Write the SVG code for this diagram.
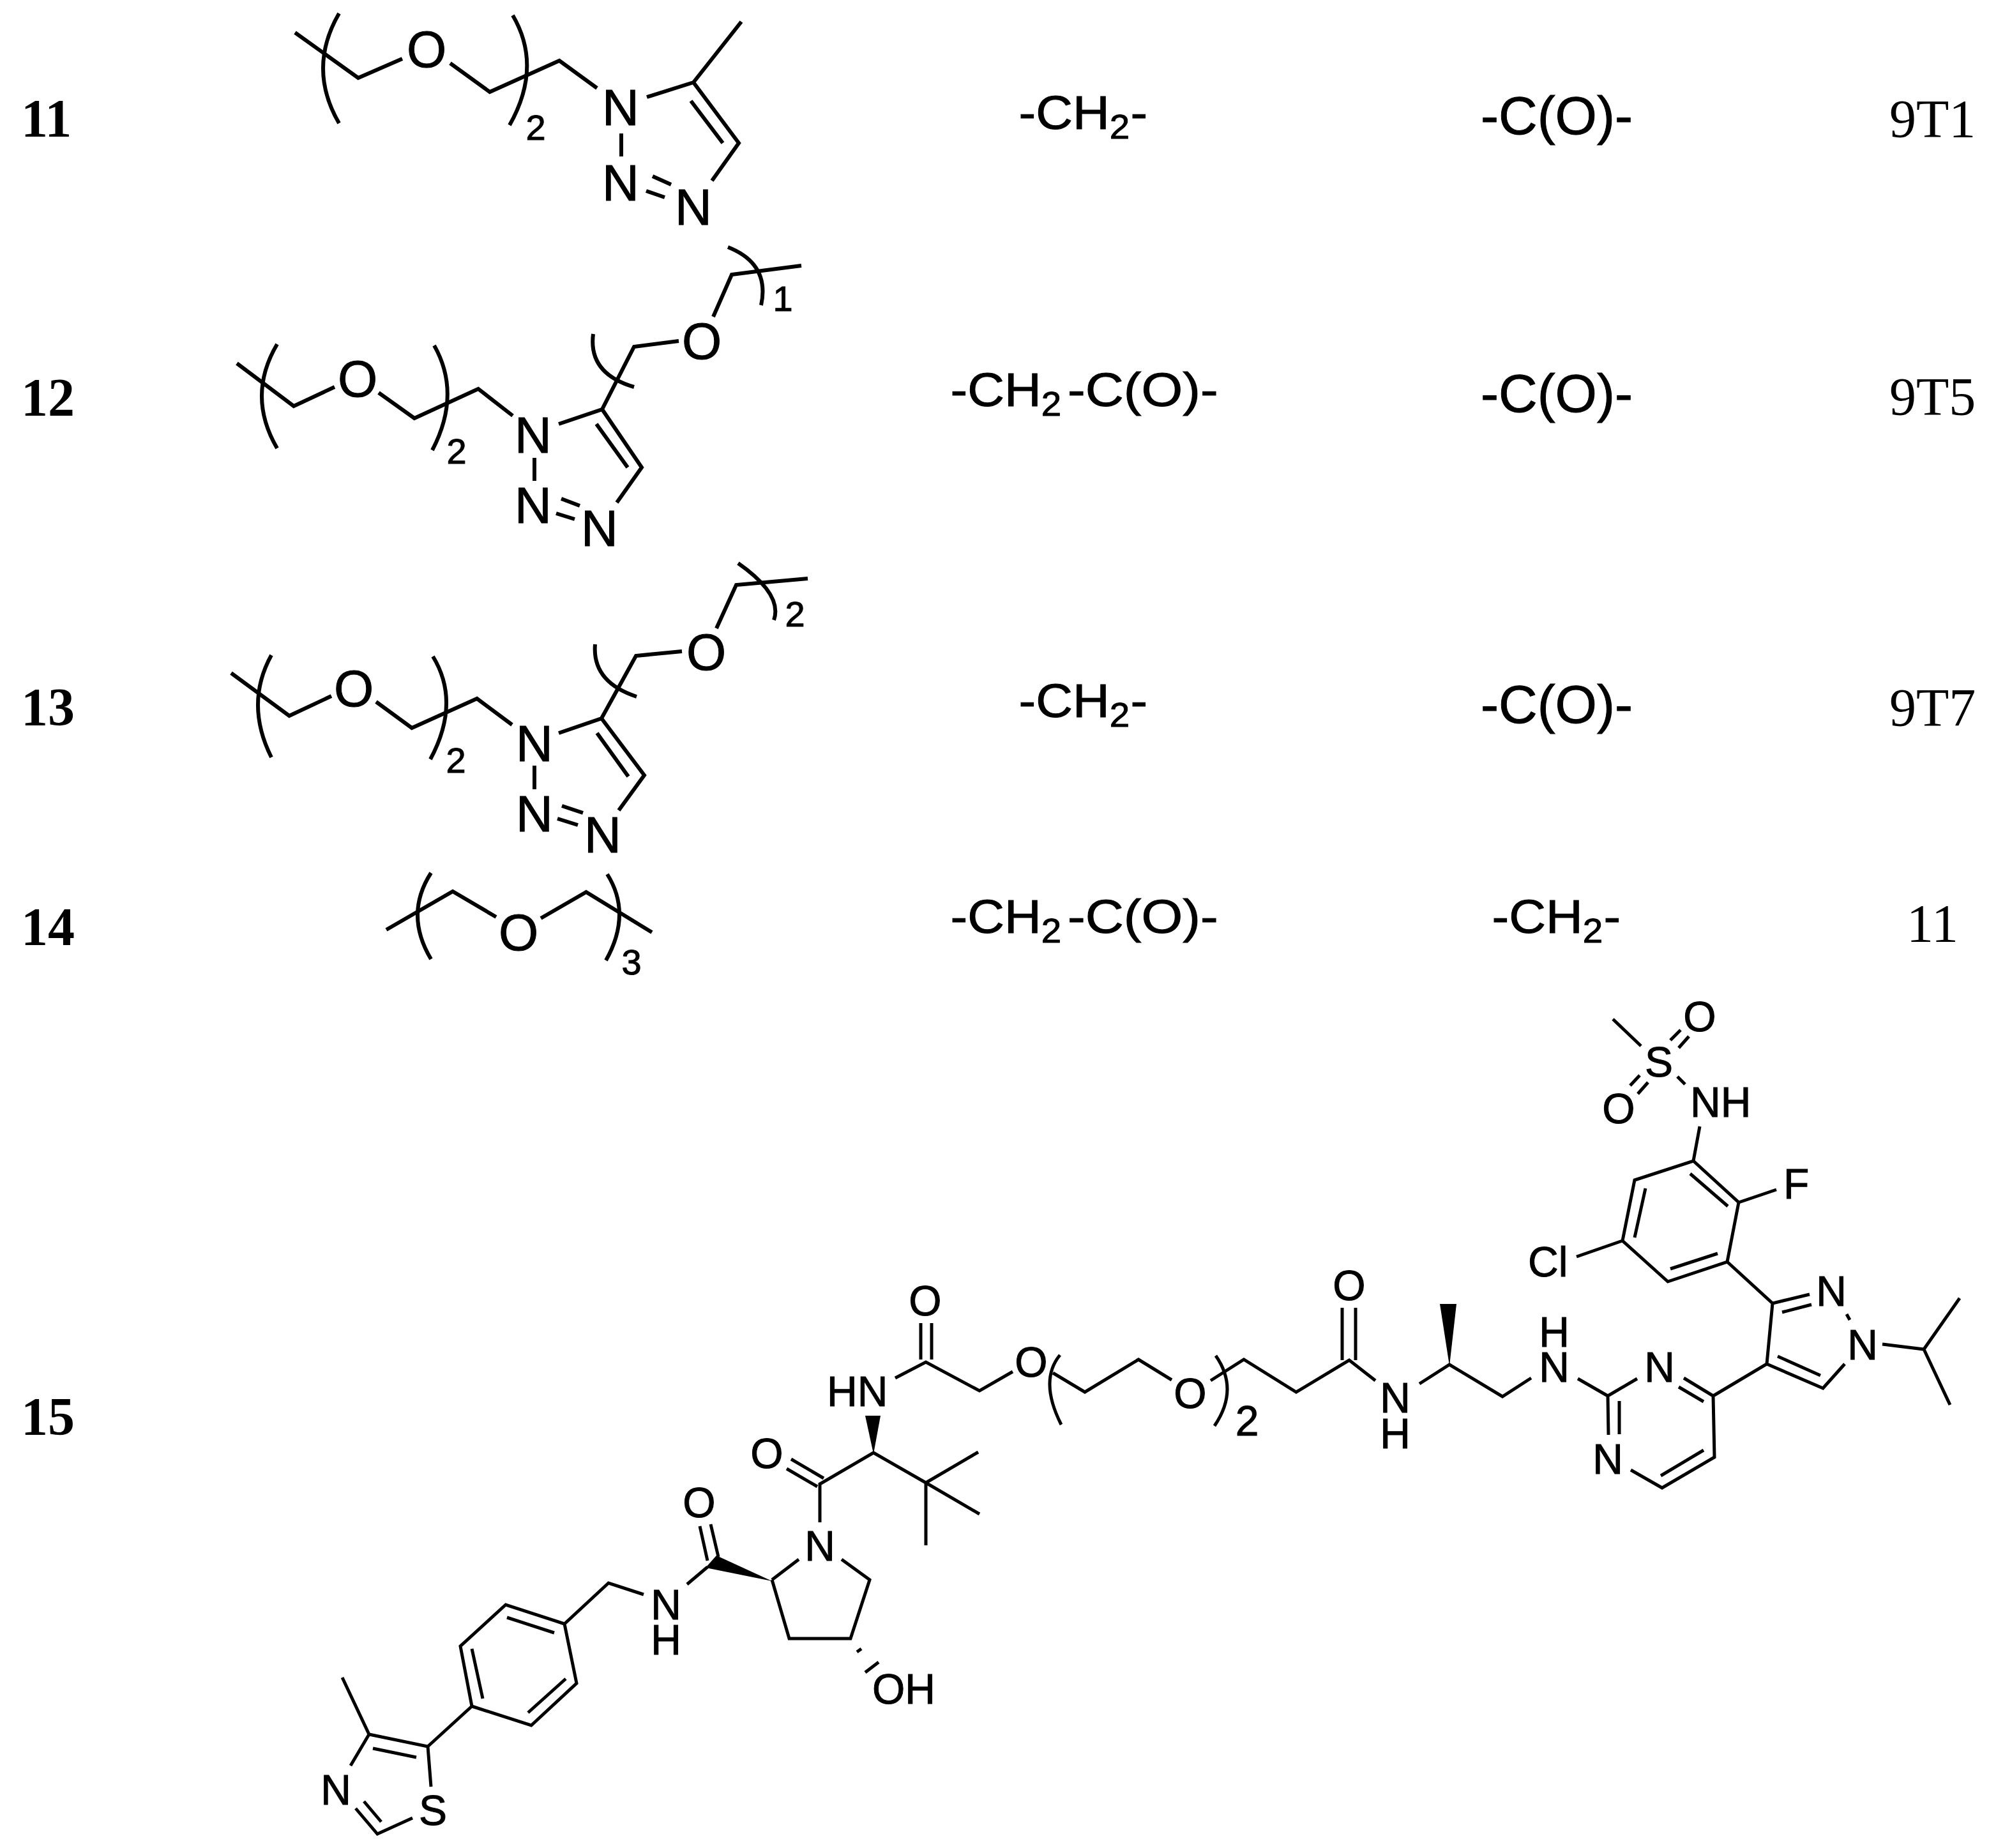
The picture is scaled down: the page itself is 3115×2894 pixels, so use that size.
<svg xmlns="http://www.w3.org/2000/svg" width="3115" height="2894" viewBox="0 0 3115 2894">
<style>
text{fill:#000}
.b{fill:none;stroke:#000;stroke-width:6;stroke-linejoin:miter;stroke-linecap:butt}
.m{fill:none;stroke:#000;stroke-width:5;stroke-linejoin:miter;stroke-linecap:butt}
.a,.s,.l,.ls,.t,.c{font-family:"Liberation Sans",Arial,sans-serif;stroke:#000;stroke-width:1}
.a{font-size:80px;text-anchor:middle}
.s{font-size:56px;text-anchor:middle}
.l{font-size:66px;text-anchor:middle}
.ls{font-size:66px}
.t{font-size:75px}
.c{font-size:84px}
.sub{font-size:53px}
.id{font-family:"Liberation Serif","Times New Roman",serif;font-size:84px;font-weight:bold}
.ref{font-family:"Liberation Serif","Times New Roman",serif;font-size:84px}
</style>
<g id="compound-ids">
<text class="id" x="33" y="214">11</text>
<text class="id" x="33" y="651">12</text>
<text class="id" x="33" y="1136">13</text>
<text class="id" x="33" y="1480">14</text>
<text class="id" x="33" y="2247">15</text>
</g>
<g id="linker-col1">
<text class="t" transform="translate(1595.5 202) scale(1.0667 1)">-CH<tspan class="sub" dy="15">2</tspan><tspan dy="-15" x="164">-</tspan></text>
<text class="t" transform="translate(1488.5 636) scale(1.0667 1)">-CH<tspan class="sub" dy="15">2</tspan></text>
<text class="t" transform="translate(1672 636) scale(1.11 1)">-C(O)-</text>
<text class="t" transform="translate(1595.5 1123) scale(1.0667 1)">-CH<tspan class="sub" dy="15">2</tspan><tspan dy="-15" x="164">-</tspan></text>
<text class="t" transform="translate(1488.5 1461) scale(1.0667 1)">-CH<tspan class="sub" dy="15">2</tspan></text>
<text class="t" transform="translate(1672 1461) scale(1.11 1)">-C(O)-</text>
</g>
<g id="linker-col2">
<text class="c" x="2319" y="210">-C(O)-</text>
<text class="c" x="2319" y="645">-C(O)-</text>
<text class="c" x="2319" y="1132">-C(O)-</text>
<text class="t" transform="translate(2336.5 1461) scale(1.0667 1)">-CH<tspan class="sub" dy="15">2</tspan><tspan dy="-15" x="164">-</tspan></text>
</g>
<g id="refs">
<text class="ref" x="2959" y="215">9T1</text>
<text class="ref" x="2959" y="650">9T5</text>
<text class="ref" x="2959" y="1137">9T7</text>
<text class="ref" x="2986" y="1475">11</text>
</g>
<g id="compound-11">
<path class="b" d="M462 51L561 122L630 92M705 99L767 144L876 95L935 138M1013 152L1086 129L1161 34M1086 129L1157 224L1115 283M1082 158L1132 224M973 209V245M1022 276L1051 289M1012 299L1041 309"/>
<path class="b" d="M531 21Q481 107 531 193M803 24Q850 104 798 196"/>
<text class="a" x="668" y="105">O</text><text class="a" x="972" y="196">N</text><text class="a" x="972" y="314">N</text><text class="a" x="1086" y="352">N</text>
<text class="s" x="839" y="219">2</text>
</g>
<g id="compound-12">
<path class="b" d="M371 569L460 636L524 606M593 615L649 655L749 609L803 651M875 664L943 641L993 543L1063 534M1117 496L1146 430L1255 416M943 641L1005 732L966 787M934 664L983 732M837 717V753M879 781L908 792M871 804L900 813"/>
<path class="b" d="M434 539Q386 620 434 702M680 541Q723 617 677 705M929 523Q921 585 993 606M1140 387Q1206 413 1192 478"/>
<text class="a" x="560" y="621">O</text><text class="a" x="1099" y="562">O</text><text class="a" x="835" y="709">N</text><text class="a" x="835" y="819">N</text><text class="a" x="939" y="855">N</text>
<text class="s" x="715" y="726">2</text><text class="s" x="1226" y="487">1</text>
</g>
<g id="compound-13">
<path class="b" d="M362 1054L453 1121L519 1090M589 1099L645 1140L747 1094L802 1135M875 1148L942 1125L996 1027L1068 1020M1122 984L1153 916L1265 906M942 1125L1009 1214L969 1269M935 1148L984 1216M837 1199V1236M880 1262L913 1273M873 1282L905 1292"/>
<path class="b" d="M425 1026Q383 1102 425 1186M678 1028Q722 1100 674 1189M932 1009Q927 1068 997 1091M1156 882Q1226 931 1212 971"/>
<text class="a" x="554" y="1106">O</text><text class="a" x="1106" y="1049">O</text><text class="a" x="837" y="1192">N</text><text class="a" x="837" y="1302">N</text><text class="a" x="944" y="1335">N</text>
<text class="s" x="714" y="1210">2</text><text class="s" x="1245" y="981">2</text>
</g>
<g id="compound-14">
<path class="b" d="M605 1456L709 1396L777 1436M847 1438L918 1397L1021 1460"/>
<path class="b" d="M675 1367Q633 1432 675 1502M951 1369Q990 1431 949 1504"/>
<text class="a" x="812" y="1488">O</text>
<text class="s" x="989" y="1526">3</text>
</g>
<g id="compound-15">
<g id="thiazole-benzyl">
<path class="m" d="M536 2627L578 2716L670 2735L675 2798M584 2738L652 2752M578 2716L549 2765M646 2847L591 2872L557 2832M597 2853L570 2821M670 2735L739 2672"/>
<path class="m" d="M739 2672L832 2702L903 2636L884 2543L792 2513L721 2578ZM756 2660L739 2582M827 2682L886 2629M868 2557L794 2533M884 2543L953 2479L1008 2497"/>
<text class="l" x="526" y="2826">N</text><text class="l" x="678" y="2858">S</text><text class="l" x="1043" y="2536">N<tspan x="1043" dy="55">H</tspan></text>
</g>
<g id="hydroxyproline">
<path class="m" d="M1076 2481L1108 2454M1096 2390L1108 2444M1113 2387L1125 2438M1209 2474L1251 2442M1318 2442L1362 2474L1332 2566H1236L1209 2474"/>
<polygon points="1209,2476 1105,2455 1122,2436"/>
<path class="m" d="M1342 2587L1349 2582M1355 2619L1376 2603"/>
<text class="l" x="1095" y="2376">O</text><text class="l" x="1284" y="2444">N</text><text class="ls" x="1366" y="2668">OH</text>
</g>
<g id="tert-leucine">
<path class="m" d="M1284 2384V2324L1368 2275L1450 2322L1532 2274M1450 2322L1534 2371M1450 2322V2420M1239 2285L1290 2315M1232 2300L1280 2328M1402 2158L1450 2133L1534 2178L1586 2148M1442 2129V2072M1459 2129V2072"/>
<polygon points="1368,2277 1355,2217 1379,2217"/>
<text class="l" x="1201" y="2299">O</text><text class="ls" x="1295" y="2202">HN</text><text class="l" x="1449" y="2060">O</text>
</g>
<g id="peg-linker">
<path class="m" d="M1649 2150L1699 2180L1783 2129L1835 2161M1896 2162L1948 2129L2030 2180L2113 2130L2154 2162M2102 2130V2048M2123 2130V2048M2223 2167L2270 2137L2353 2187L2398 2158"/>
<path class="m" d="M1660 2122Q1627 2162 1662 2231M1904 2123Q1941 2176 1902 2233"/>
<polygon points="2270,2139 2255,2042 2281,2042"/>
<text class="l" x="1615" y="2156">O</text><text class="l" x="1864" y="2205">O</text><text class="l" x="2113" y="2036">O</text><text class="l" x="2185" y="2212">N<tspan x="2185" dy="56">H</tspan></text><text class="l" x="2434" y="2109">H<tspan x="2434" dy="55">N</tspan></text>
<text class="l" x="1953" y="2248">2</text>
</g>
<g id="pyrimidine-pyrazole">
<path class="m" d="M2471 2159L2518 2186L2564 2159M2637 2158L2683 2186M2629 2172L2668 2195M2518 2186L2519 2247M2536 2194V2246M2554 2302L2603 2330L2685 2282L2683 2186M2601 2311L2668 2271M2683 2186L2767 2136L2776 2041L2834 2027M2791 2055L2837 2043M2892 2058L2897 2067M2889 2136L2855 2174L2767 2136M2784 2124L2851 2154M2948 2105L3013 2113L3069 2033M3013 2113L3054 2200"/>
<text class="l" x="2599" y="2164">N</text><text class="l" x="2518" y="2308">N</text><text class="l" x="2868" y="2045">N</text><text class="l" x="2917" y="2129">N</text>
</g>
<g id="aryl-sulfonamide">
<path class="m" d="M2776 2041L2705 1976M2705 1976L2723 1883L2652 1818L2560 1848L2541 1943L2612 2007Z"/>
<path class="m" d="M2706 1889L2647 1838M2577 1861L2560 1938M2616 1987L2690 1963M2723 1883L2782 1863M2541 1943L2469 1968M2652 1818L2662 1764M2627 1686L2639 1698M2570 1638L2526 1596M2616 1629L2632 1613M2629 1641L2645 1623M2553 1700L2568 1684M2565 1713L2581 1695"/>
<text class="ls" x="2793" y="1877">F</text><text class="ls" x="2393" y="1999">Cl</text><text class="ls" x="2647" y="1749">NH</text><text class="l" x="2598" y="1686">S</text><text class="l" x="2662" y="1615">O</text><text class="l" x="2535" y="1759">O</text>
</g>
</g>
</svg>
